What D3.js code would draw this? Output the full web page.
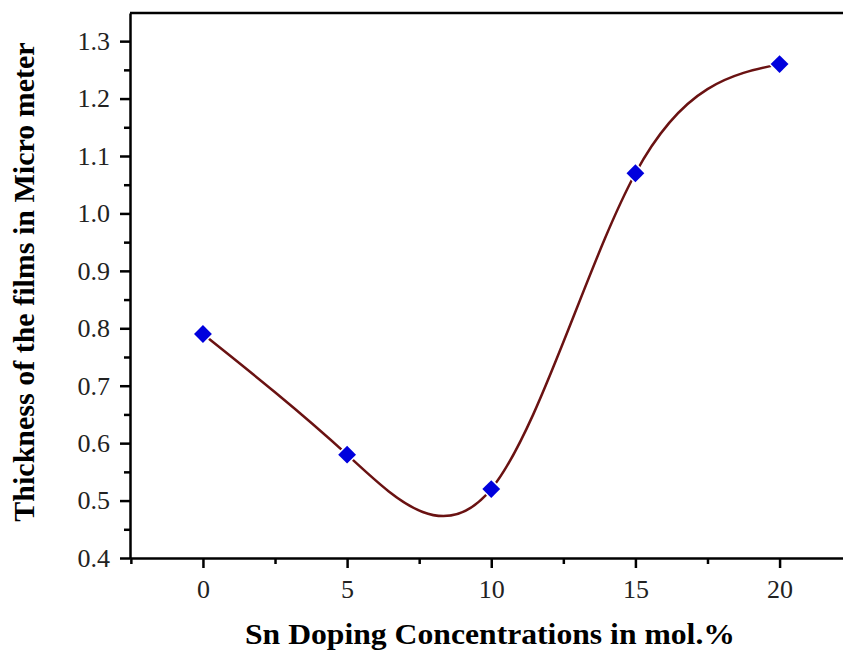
<!DOCTYPE html>
<html>
<head>
<meta charset="utf-8">
<script src="https://cdn.jsdelivr.net/npm/d3@7"></script>
<style>
  body { margin: 0; background: #fff; }
  text { font-family: "Liberation Serif", "Times New Roman", serif; }
</style>
</head>
<body>
<div id="chart"></div>
<script>
// data
var dopingConc = [0, 5, 10, 15, 20];
var thickness = [0.79, 0.58, 0.52, 1.07, 1.26];
var xTicks = [0, 5, 10, 15, 20];
var yTicks = [0.4, 0.5, 0.6, 0.7, 0.8, 0.9, 1.0, 1.1, 1.2, 1.3];

var W = 843, H = 650;
var margin = { top: 13, right: 0, bottom: 92, left: 130 },
    width = W - margin.left - margin.right,
    height = H - margin.top - margin.bottom;

var svg = d3.select("#chart")
    .append("svg")
    .attr("width", W)
    .attr("height", H)
    .append("g")
    .attr("transform", "translate(" + margin.left + "," + margin.top + ")");

var x = d3.scaleLinear().domain([-2.53, 22.2]).range([0, width]);
var y = d3.scaleLinear().domain([0.4, 1.349]).range([height, 0]);

// X axis, major and minor ticks
svg.append("g")
    .attr("transform", "translate(0," + height + ")")
    .call(d3.axisBottom(x).tickValues(d3.range(-2.5, 22.5, 5)).tickSize(6).tickFormat(""))
    .call(function (g) { g.select(".domain").remove(); })
    .selectAll("line").attr("stroke-width", 2.5);

svg.append("g")
    .attr("transform", "translate(0," + height + ")")
    .call(d3.axisBottom(x).tickValues(xTicks).tickSize(10).tickPadding(12).tickSizeOuter(0))
    .call(function (g) {
        g.attr("font-size", null).attr("font-family", null);
        g.select(".domain").attr("stroke-width", 2.5);
        g.selectAll("line").attr("stroke-width", 2.5);
        g.selectAll("text").style("font-size", "26px").attr("fill", "#222");
    });

// Y axis, major and minor ticks
svg.append("g")
    .call(d3.axisLeft(y).tickValues(d3.range(0.45, 1.35, 0.1)).tickSize(6).tickFormat(""))
    .call(function (g) { g.select(".domain").remove(); })
    .selectAll("line").attr("stroke-width", 2.5);

svg.append("g")
    .call(d3.axisLeft(y).tickValues(yTicks).tickSize(10).tickPadding(10).tickSizeOuter(0)
        .tickFormat(d3.format(".1f")))
    .call(function (g) {
        g.attr("font-size", null).attr("font-family", null);
        g.select(".domain").attr("stroke-width", 2.5);
        g.selectAll("line").attr("stroke-width", 2.5);
        g.selectAll("text").style("font-size", "26px").attr("fill", "#222");
    });

// top frame line
svg.append("line")
    .attr("x1", 0).attr("x2", width)
    .attr("y1", 0).attr("y2", 0)
    .attr("stroke", "#000")
    .attr("stroke-width", 2.5);

// spline curve through the points
var pts = dopingConc.map(function (d, i) { return [d, thickness[i]]; });
svg.append("path")
    .datum(pts)
    .attr("fill", "none")
    .attr("stroke", "#6a1212")
    .attr("stroke-width", 2.5)
    .attr("d", d3.line()
        .x(function (d) { return x(d[0]); })
        .y(function (d) { return y(d[1]); })
        .curve(d3.curveNatural));

// diamond markers, white stroke leaves a gap in the line
svg.selectAll(".pt")
    .data(pts)
    .enter()
    .append("path")
    .attr("transform", function (d) { return "translate(" + x(d[0]) + "," + y(d[1]) + ") rotate(45)"; })
    .attr("d", "M-6.3,-6.3H6.3V6.3H-6.3Z")
    .attr("fill", "#0000dd")
    .attr("stroke", "#fff")
    .attr("stroke-width", 3)
    .attr("paint-order", "stroke");

// axis titles
svg.append("text")
    .attr("text-anchor", "middle")
    .attr("x", 490 - margin.left)
    .attr("y", height + 86)
    .attr("textLength", 490)
    .attr("lengthAdjust", "spacingAndGlyphs")
    .style("font-size", "29px")
    .style("font-weight", "bold")
    .text("Sn Doping Concentrations in mol.%");

svg.append("text")
    .attr("text-anchor", "middle")
    .attr("transform", "rotate(-90)")
    .attr("x", -(282 - margin.top))
    .attr("y", -margin.left + 34)
    .style("font-size", "30px")
    .style("font-weight", "bold")
    .text("Thickness of the films in Micro meter");
</script>
</body>
</html>
